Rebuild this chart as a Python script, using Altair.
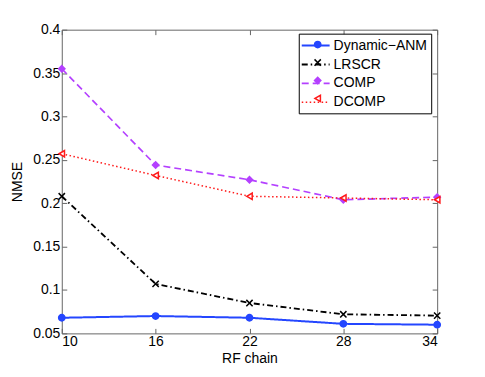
import altair as alt
import pandas as pd

rf_chain = [10, 16, 22, 28, 34]
series_names = ["Dynamic\u2212ANM", "LRSCR", "COMP", "DCOMP"]
dynamic_anm = [0.068, 0.070, 0.068, 0.061, 0.060]
lrscr = [0.208, 0.107, 0.085, 0.072, 0.0705]
comp = [0.355, 0.244, 0.227, 0.204, 0.207]
dcomp = [0.257, 0.232, 0.208, 0.206, 0.204]
y_ticks = [0.05, 0.1, 0.15, 0.2, 0.25, 0.3, 0.35, 0.4]

colors = ["#2446ff", "#000000", "#b440ff", "#ff1a1a"]
fills = ["#2446ff", "#000000", "#b440ff", "#ffffff"]
dashes = [[1, 0], [6, 3, 1.5, 3], [7, 4], [1.5, 2.5]]
shapes = ["circle", "M-1,-1L1,1M-1,1L1,-1", "diamond", "triangle-left"]
widths = [2.0, 1.5, 1.6, 1.5]

# marker legend keys (same names, trailing space keeps the marker legend separate)
marker_names = [n + " " for n in series_names]

rows = []
for name, mname, vals in zip(series_names, marker_names, [dynamic_anm, lrscr, comp, dcomp]):
    for x, v in zip(rf_chain, vals):
        rows.append({"rf": x, "nmse": v, "series": name, "marker": mname})
df = pd.DataFrame(rows)

FONT = "Liberation Sans"
xscale = alt.Scale(domain=[10, 34], nice=False, zero=False)
yscale = alt.Scale(domain=[0.05, 0.4], nice=False, zero=False)

LX, LY = 238, 4

line_legend = alt.Legend(title=None, orient="none", legendX=LX, legendY=LY,
                         symbolType="M-2,0L2,0", symbolSize=196,
                         symbolOffset=5, symbolFillColor="transparent",
                         symbolStrokeWidth=1.5, strokeColor="#000000",
                         fillColor="#ffffff", padding=4, rowPadding=4,
                         labelFontSize=14, labelFont=FONT, labelOffset=10,
                         labelColor="#000000")

marker_legend = alt.Legend(title=None, orient="none", legendX=LX, legendY=LY,
                           padding=4, rowPadding=4, labelFontSize=14,
                           labelFont=FONT, labelExpr="''",
                           symbolOffset=8, symbolStrokeWidth=1.5, symbolSize=40)

base = alt.Chart(df)

lines = base.mark_line().encode(
    x=alt.X("rf:Q", scale=xscale, title="RF chain",
            axis=alt.Axis(orient="bottom", values=rf_chain, offset=-5, tickSize=5,
                          labelPadding=1, domain=False, grid=False, titlePadding=3)),
    y=alt.Y("nmse:Q", scale=yscale, title="NMSE",
            axis=alt.Axis(orient="left", values=y_ticks, format=".2~f", offset=-5,
                          tickSize=5, labelPadding=2, domain=False, grid=False,
                          titlePadding=8)),
    color=alt.Color("series:N", scale=alt.Scale(domain=series_names, range=colors),
                    legend=line_legend),
    strokeDash=alt.StrokeDash("series:N", scale=alt.Scale(domain=series_names, range=dashes),
                              legend=line_legend),
    strokeWidth=alt.StrokeWidth("series:N", scale=alt.Scale(domain=series_names, range=widths),
                                legend=None),
)

points = base.mark_point(size=40, strokeWidth=1.5, opacity=1).encode(
    x=alt.X("rf:Q", scale=xscale,
            axis=alt.Axis(orient="top", values=rf_chain, offset=-5, tickSize=5,
                          labels=False, domain=False, grid=False, title=None)),
    y=alt.Y("nmse:Q", scale=yscale,
            axis=alt.Axis(orient="right", values=y_ticks, offset=-5, tickSize=5,
                          labels=False, domain=False, grid=False, title=None)),
    stroke=alt.Stroke("marker:N", scale=alt.Scale(domain=marker_names, range=colors),
                      legend=marker_legend),
    shape=alt.Shape("marker:N", scale=alt.Scale(domain=marker_names, range=shapes),
                    legend=marker_legend),
    fill=alt.Fill("marker:N", scale=alt.Scale(domain=marker_names, range=fills),
                  legend=marker_legend),
)

chart = alt.layer(lines, points).resolve_axis(
    x="independent", y="independent"
).properties(
    width=377, height=305,
    background="white",
    autosize=alt.AutoSizeParams(type="none"),
    padding={"left": 54, "top": 21, "right": 40, "bottom": 35},
).configure_view(
    stroke="#666666", strokeWidth=1
).configure_axis(
    labelFont=FONT, titleFont=FONT, labelFontSize=14, titleFontSize=14,
    titleFontWeight="normal", labelColor="#000000", titleColor="#000000",
    tickColor="#666666", tickWidth=1
)

chart.save("out.html", embed_options={"renderer": "svg", "actions": False})
